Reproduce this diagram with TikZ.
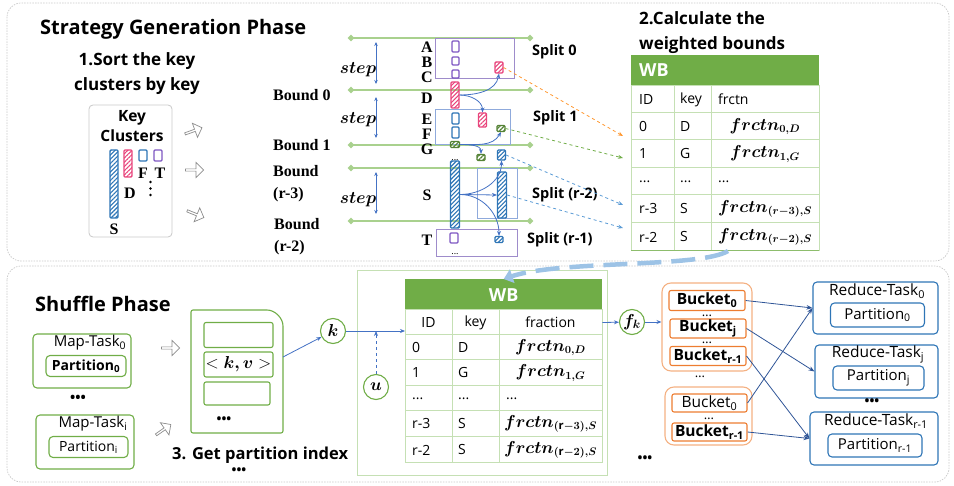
\documentclass[tikz,border=0pt]{standalone}
\usepackage{fontspec}
\usepackage{bm}
\setmainfont{Open Sans}
\newfontfamily\tnr{Liberation Serif}
\usetikzlibrary{positioning, arrows.meta, patterns.meta, shapes.arrows}

% Colores
\definecolor{gris}{HTML}{C8C8C8}
\definecolor{grisfl}{HTML}{8C8C8C}
\definecolor{verde}{HTML}{70AD47}
\definecolor{verdecl}{HTML}{A9D18E}
\definecolor{rejilla}{HTML}{C5E0B4}
\definecolor{verdeos}{HTML}{548235}
\definecolor{azul}{HTML}{2E75B6}
\definecolor{azulfl}{HTML}{4472C4}
\definecolor{azulos}{HTML}{2F5597}
\definecolor{azulcl}{HTML}{9DC3E6}
\definecolor{azulsp}{HTML}{8FAADC}
\definecolor{azulpt}{HTML}{5B9BD5}
\definecolor{rosa}{HTML}{E8457C}
\definecolor{morado}{HTML}{7E57C2}
\definecolor{moradocl}{HTML}{9E8CCB}
\definecolor{naranja}{HTML}{ED7D31}
\definecolor{naranjacl}{HTML}{F4B183}

\newcommand{\frc}[1]{$\bm{frctn_{#1}}$}

\tikzset{
  fase/.style={draw=gris, dash pattern=on 1.5pt off 1.2pt, line width=0.7pt, rounded corners=14pt},
  titulo/.style={font=\fontsize{20}{24}\selectfont\bfseries, inner sep=0pt},
  paso/.style={font=\fontsize{17}{25}\selectfont\bfseries, inner sep=0pt},
  letra/.style={font=\tnr\fontsize{16}{16}\selectfont\bfseries, inner sep=0pt},
  cota/.style={font=\tnr\fontsize{16}{22}\selectfont\bfseries, inner sep=0pt, align=left, anchor=west},
  etq/.style={font=\fontsize{14.5}{18}\selectfont\bfseries, inner sep=0pt, anchor=west},
  celda/.style={font=\fontsize{14}{17}\selectfont, inner sep=0pt},
  bnd/.style={verdecl, line width=2.2pt, {Circle[length=6pt,width=6pt]}-{Circle[length=6pt,width=6pt]}},
  rayado/.style={draw=#1, line width=1.1pt, pattern={Lines[angle=45,distance=3pt,line width=1.1pt]}, pattern color=#1, inner sep=0pt, rounded corners=1pt},
  hueco/.style={draw=#1, line width=1.1pt, fill=white, inner sep=0pt, rounded corners=1pt},
  marco/.style={draw=#1, line width=1pt, inner sep=0pt},
  caja/.style={draw=#1, line width=1.1pt, rounded corners=4pt, inner sep=0pt},
  cabecera/.style={fill=verde, text=white, font=\fontsize{18}{20}\selectfont\bfseries, inner sep=0pt},
  bloque/.style={single arrow, draw=grisfl, fill=white, line width=0.7pt, minimum height=18pt, minimum width=15pt, single arrow head extend=2pt, inner sep=0pt},
  curva/.style={-{Stealth[length=5pt,width=4pt]}, azulfl, line width=0.8pt},
  punt/.style={-{Stealth[length=5pt,width=4pt]}, dashed, line width=0.8pt},
  circ/.style={circle, draw=verde, line width=1.1pt, fill=white, minimum size=25pt, inner sep=0pt, font=\fontsize{17}{17}\selectfont},
  enlace/.style={-{Stealth[length=6pt,width=4.5pt]}, azulos, line width=0.8pt},
  puntos/.style={font=\fontsize{13}{13}\selectfont, inner sep=0pt, text height=3pt, text depth=0pt}
}

\begin{document}
\begin{tikzpicture}[x=1pt, y=-1pt]
\useasboundingbox (0,0) rectangle (954,486);

% Fases
\draw[fase] (7,3) rectangle (949,261);
\draw[fase] (7,266) rectangle (949,482);
\node[titulo, anchor=base west] (tsg) at (40,35) {Strategy Generation Phase};
\node[titulo, anchor=base west] (tsh) at (35,312) {Shuffle Phase};

% 1. Ordenar los grupos de claves
\node[paso, align=center, anchor=north] (p1) at (137,52) {1.Sort the key\\clusters by key};
\node[caja=gris, line width=0.8pt, minimum width=83, minimum height=132] (kc) at (130.5,171) {};
\node[font=\fontsize{15.5}{20}\selectfont\bfseries, align=center, inner sep=0pt] at (132,126) {Key\\Clusters};
\node[rayado=azul, minimum width=8, minimum height=68] (ks) at (114,184) {};
\node[rayado=rosa, minimum width=8, minimum height=27] (kd) at (128,163.5) {};
\node[hueco=azul, minimum width=8, minimum height=11] (kf) at (143,155.5) {};
\node[hueco=morado, minimum width=8, minimum height=11] (kt) at (158,155.5) {};
\node[letra] at (114,229) {S};
\node[letra] at (130,193) {D};
\node[letra] at (143,173) {F};
\node[letra] at (160,173) {T};
\foreach \y in {182,188.5,195}
  \fill (150.5,\y) circle (1.4);

% Flechas de bloque
\node[bloque, rotate=20] (fa) at (193,131) {};
\node[bloque] (fb) at (194,170) {};
\node[bloque, rotate=-22] (fc) at (195,214) {};
\node[bloque] (fd) at (170,348) {};
\node[bloque, rotate=35] (fe) at (163,430) {};

% Cotas y pasos
\foreach \y in {38,90,145,168,221}
  \draw[bnd] (348,\y) -- (533,\y);
\node[cota] at (273,95) {Bound 0};
\node[cota] at (273,145) {Bound 1};
\node[cota] at (273,184) {Bound\\(r-3)};
\node[cota] at (274,237) {Bound\\(r-2)};
\foreach \ya/\yb/\ys in {42/84/70, 97/138/120, 172/214/200} {
  \draw[<->, >={Stealth[length=4pt,width=3.5pt]}, azulfl, line width=0.8pt] (376,\ya) -- (376,\yb);
  \node[font=\fontsize{16}{16}\selectfont, inner sep=0pt] at (358,\ys) {$\bm{step}$};
}

% Letras de las claves
\foreach \l/\y in {A/47, B/62, C/77, D/98, E/119, F/134, G/149, S/195, T/240}
  \node[letra] at (427,\y) {\l};

% Splits
\node[marco=moradocl, minimum width=79, minimum height=40] (sp0) at (474.5,59) {};
\node[marco=azulsp, minimum width=75, minimum height=35] (sp1) at (472.5,127.5) {};
\node[marco=azulsp, minimum width=40, minimum height=50] (sp2) at (497.5,194) {};
\node[marco=moradocl, minimum width=81, minimum height=27] (sp3) at (476.5,243.5) {};
\node[etq] at (532,52) {Split 0};
\node[etq] at (533,118) {Split 1};
\node[etq] at (532,195) {Split (r-2)};
\node[etq] at (527,240) {Split (r-1)};

% Grupos dentro de los splits
\node[hueco=morado, minimum width=7, minimum height=11] (ka) at (455.5,46.5) {};
\node[hueco=morado, minimum width=7, minimum height=8] (kb) at (455.5,61) {};
\node[hueco=morado, minimum width=7, minimum height=8] (kc2) at (455.5,74) {};
\node[rayado=rosa, minimum width=8, minimum height=11] (ps0) at (499,67.5) {};
\node[rayado=rosa, minimum width=8, minimum height=26] (bd) at (455,95) {};
\node[hueco=azul, minimum width=7, minimum height=11] (ke) at (455.5,118.5) {};
\node[hueco=azul, minimum width=7, minimum height=11] (kf2) at (455.5,132.5) {};
\node[rayado=rosa, minimum width=8, minimum height=14] (ps1) at (482.5,120) {};
\node[rayado=verdeos, minimum width=8, minimum height=6] (gs1) at (501,128.5) {};
\node[rayado=verdeos, minimum width=9, minimum height=6] (bg) at (455,144.5) {};
\node[rayado=verdeos, minimum width=8, minimum height=6] (gs2) at (481,157.5) {};
\node[rayado=azul, minimum width=8, minimum height=10] (bsm) at (501.5,155) {};
\node[rayado=azul, minimum width=9, minimum height=67] (bs) at (455,194.5) {};
\node[rayado=azul, minimum width=9, minimum height=46] (bt) at (502,195) {};
\node[hueco=morado, minimum width=8, minimum height=10] (kt2) at (454,238) {};
\node[rayado=azul, minimum width=8, minimum height=6] (bst) at (499,239.5) {};
\node[puntos, font=\fontsize{9}{9}\selectfont] at (455,159) {...};
\node[puntos, font=\fontsize{9}{9}\selectfont] at (455,253) {...};

\draw[curva] (bd.east) to[out=0, in=-100] (ps0.south);
\draw[curva] (bd.east) to[out=0, in=90] (ps1.north);
\draw[curva] (bg.east) to[out=0, in=-120] (gs1.south);
\draw[curva] (bg.east) to[out=0, in=90] (gs2.north);
\draw[curva] (bs.east) to[out=0, in=-90] (bsm.south);
\draw[curva] (bs.east) -- (bt.west);
\draw[curva] (bs.east) to[out=0, in=90] (bst.north);

% 2. Tabla WB
\node[paso, align=left, anchor=north west] (p2) at (639,11) {2.Calculate the\\weighted bounds};
\node[cabecera, minimum width=188, minimum height=31, anchor=north west] (wb1) at (631,55) {};
\node[cabecera, anchor=west] at (639,70.5) {WB};
\draw[rejilla, line width=1pt] (631,86) rectangle (819,251);
\foreach \y in {113,140,168,195,223}
  \draw[rejilla, line width=1pt] (631,\y) -- (819,\y);
\foreach \x in {674,711}
  \draw[rejilla, line width=1pt] (\x,86) -- (\x,251);
\draw[verde!80, line width=1pt] (631,251) -- (819,251);
\node[celda, anchor=west] at (639,99.5) {ID};
\node[celda, anchor=west] at (680,99.5) {key};
\node[celda, anchor=west] at (718,99.5) {frctn};
\foreach \i/\k/\f/\y in {0/D/{\frc{0,D}}/126.5, 1/G/{\frc{1,G}}/154, {r-3}/S/{\frc{(r-3),S}}/209, {r-2}/S/{\frc{(r-2),S}}/237} {
  \node[celda, anchor=west] at (639,\y) {\i};
  \node[celda, anchor=west] at (680,\y) {\k};
  \node[celda, font=\fontsize{16}{17}\selectfont] at (765,\y) {\f};
}
\foreach \x in {639,680,718}
  \node[celda, anchor=west] at (\x,181.5) {...};

% Flechas punteadas hacia la tabla
\coordinate (t0) at (623,136);
\coordinate (t1) at (623,158);
\coordinate (t3) at (623,205);
\coordinate (t2) at (623,228);
\draw[punt, color=orange!80] (ps0.east) -- (t0);
\draw[punt, color=verde] (gs1.east) -- (t1);
\draw[punt, color=azulpt] (bsm.east) -- (t3);
\draw[punt, color=azulpt] (bt.east) -- (t2);

% Map-Tasks
\node[caja=verde, minimum width=98, minimum height=54] (mt0) at (82,361) {};
\node[font=\fontsize{15}{18}\selectfont, inner sep=0pt] at (90,343) {Map-Task\textsubscript{0}};
\node[caja=verde, minimum width=80, minimum height=21, font=\fontsize{14}{17}\selectfont\bfseries] (pm0) at (86,366) {Partition\textsubscript{0}};
\node[puntos, font=\fontsize{14}{14}\selectfont\bfseries] at (78,401) {•••};
\node[caja=verde, minimum width=98, minimum height=54] (mti) at (85,442) {};
\node[font=\fontsize{15}{18}\selectfont, inner sep=0pt] at (93,424) {Map-Task\textsubscript{i}};
\node[caja=verde, minimum width=79, minimum height=21, font=\fontsize{14}{17}\selectfont] (pmi) at (88.5,447) {Partition\textsubscript{i}};

% 3. Indice de particion
\draw[verde, line width=1.1pt, rounded corners=2pt] (191,433) -- (191,310) -- (265,310) arc[start angle=-90, end angle=0, radius=18] -- (283,433) -- cycle;
\node[caja=verde, rounded corners=2pt, minimum width=69, minimum height=25] (rg1) at (238.5,335) {};
\node[caja=verde, rounded corners=2pt, minimum width=69, minimum height=25, font=\fontsize{16}{17}\selectfont] (rg2) at (238.5,364.5) {$<\bm{k,v}>$};
\node[caja=verde, rounded corners=2pt, minimum width=66, minimum height=23] (rg3) at (237,393.5) {};
\node[puntos, font=\fontsize{13}{13}\selectfont\bfseries] at (224,422) {•••};
\node[paso, font=\fontsize{16.5}{20}\selectfont\bfseries, anchor=base west] (p3) at (172,460) {3. Get partition index};
\node[puntos, font=\fontsize{13}{13}\selectfont\bfseries] at (239,473) {•••};
\coordinate (rgs) at (283,357);

\node[circ] (k) at (333,331) {$\bm{k}$};
\node[circ] (u) at (376,387) {$\bm{u}$};
\draw[curva] (rgs) -- (k);

% Tabla WB de la fase shuffle
\draw[rejilla, line width=0.6pt] (357,270) rectangle (607,475);
\node[cabecera, minimum width=197, minimum height=31, anchor=north west] (wb2) at (405,279) {WB};
\draw[rejilla, line width=1pt] (405,310) rectangle (602,463);
\foreach \y in {335,360,386,411,437}
  \draw[rejilla, line width=1pt] (405,\y) -- (602,\y);
\foreach \x in {452,499}
  \draw[rejilla, line width=1pt] (\x,310) -- (\x,463);
\node[celda] (hid) at (428.5,322.5) {ID};
\node[celda] (hky) at (475.5,322.5) {key};
\node[celda] (hfr) at (550.5,322.5) {fraction};
\foreach \i/\k/\f/\y in {0/D/{\frc{0,D}}/347.5, 1/G/{\frc{1,G}}/373, {r-3}/S/{\frc{(\mathrm{r}-3),S}}/424, {r-2}/S/{\frc{(\mathrm{r}-2),S}}/450} {
  \node[celda, anchor=west] at (412,\y) {\i};
  \node[celda, anchor=west] at (458,\y) {\k};
  \node[celda, font=\fontsize{16}{17}\selectfont] at (550.5,\y) {\f};
}
\foreach \x in {412,458,506}
  \node[celda, anchor=west] at (\x,398.5) {...};

\coordinate (wbin) at (405,331);
\draw[curva] (k) -- (wbin);
\draw[curva, dashed] (u) -- (u |- k);

% Flecha gruesa entre fases
\coordinate (wbs) at (728,251);
\draw[azulcl, line width=4.5pt, dash pattern=on 24pt off 10pt, -{Triangle[length=9pt,width=14pt]}] (wbs) .. controls (700,268) and (560,260) .. (wb2.north);

% f_k y cubetas
\node[circ] (fk) at (632,322) {$\bm{f_k}$};
\draw[curva] (hfr.east -| wb2.east) -- (fk);
\node[caja=naranjacl, rounded corners=9pt, minimum width=90, minimum height=88] (g1) at (707,327) {};
\node[caja=naranjacl, rounded corners=9pt, minimum width=87, minimum height=58] (g2) at (708.5,416) {};
\draw[curva] (fk) -- (fk -| g1.west);
\node[caja=naranja, rounded corners=2pt, minimum width=76, minimum height=20, font=\fontsize{15.5}{17}\selectfont\bfseries] (b0) at (707,300.5) {Bucket\textsubscript{0}};
\node[puntos] at (707,315) {…};
\node[caja=naranja, rounded corners=2pt, minimum width=76, minimum height=19, font=\fontsize{15.5}{17}\selectfont\bfseries] (bj) at (708,328.5) {Bucket\textsubscript{j}};
\node[puntos] at (707,342) {…};
\node[caja=naranja, rounded corners=2pt, minimum width=76, minimum height=19, font=\fontsize{15.5}{17}\selectfont\bfseries] (br) at (708,356) {Bucket\textsubscript{r-1}};
\node[puntos] at (700,376) {…};
\node[caja=naranja, rounded corners=2pt, minimum width=75, minimum height=18, font=\fontsize{15.5}{17}\selectfont] (c0) at (709.5,403) {Bucket\textsubscript{0}};
\node[puntos] at (709,418.5) {…};
\node[caja=naranja, rounded corners=2pt, minimum width=75, minimum height=18, font=\fontsize{15.5}{17}\selectfont\bfseries] (cr) at (709.5,432) {Bucket\textsubscript{r-1}};
\node[puntos, font=\fontsize{13}{13}\selectfont\bfseries] at (645,461) {•••};

% Reduce-Tasks
\node[caja=azul, minimum width=125, minimum height=52] (r0) at (875.5,308) {};
\node[font=\fontsize{15.5}{18}\selectfont, inner sep=0pt] at (877,291) {Reduce-Task\textsubscript{0}};
\node[caja=azul, minimum width=94, minimum height=24, font=\fontsize{15}{17}\selectfont] (q0) at (877.5,315) {Partition\textsubscript{0}};
\node[caja=azul, minimum width=123, minimum height=53] (rj) at (876.5,371.5) {};
\node[font=\fontsize{15.5}{18}\selectfont, inner sep=0pt] at (878,354) {Reduce-Task\textsubscript{j}};
\node[caja=azul, minimum width=91, minimum height=24, font=\fontsize{15}{17}\selectfont] (qj) at (878.5,378) {Partition\textsubscript{j}};
\node[puntos, font=\fontsize{13}{13}\selectfont\bfseries] at (872,404) {•••};
\node[caja=azul, minimum width=128, minimum height=53] (rr) at (874,438.5) {};
\node[font=\fontsize{15.5}{18}\selectfont, inner sep=0pt] at (876,421) {Reduce-Task\textsubscript{r-1}};
\node[caja=azul, minimum width=94, minimum height=23, font=\fontsize{15}{17}\selectfont] (qr) at (875,445.5) {Partition\textsubscript{r-1}};

\draw[enlace] (b0.east) -- (r0.west);
\draw[enlace] (bj.east) -- (rj.west);
\draw[enlace] (br.east) -- (rr.west);
\draw[enlace] (c0.east) -- (r0.west);
\draw[enlace] (cr.east) -- (rr.west);
\end{tikzpicture}
\end{document}
